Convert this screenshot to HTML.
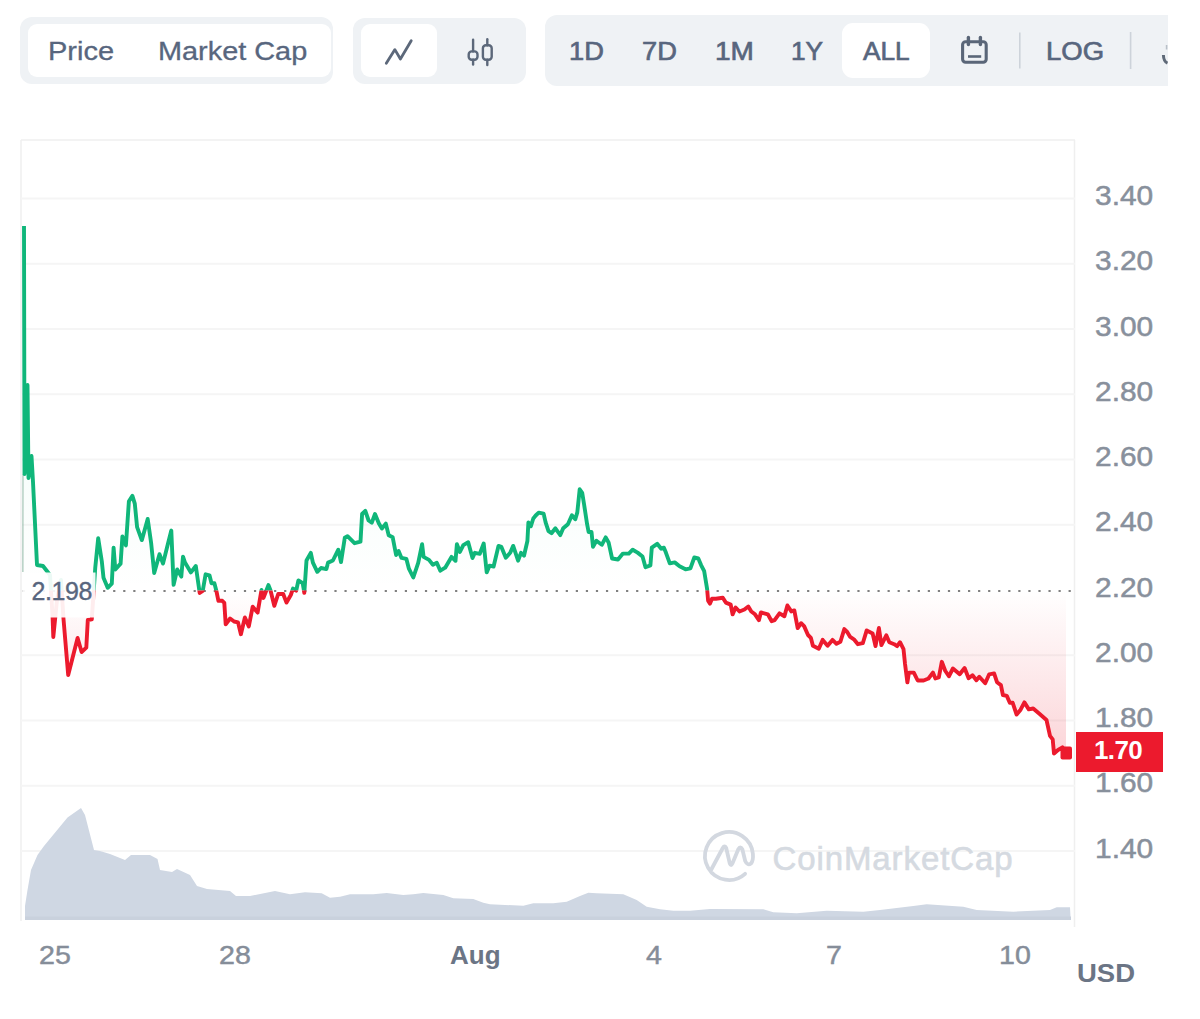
<!DOCTYPE html>
<html><head><meta charset="utf-8">
<style>
*{box-sizing:border-box;margin:0;padding:0}
html,body{width:1200px;height:1019px;background:#fff;overflow:hidden;font-family:"Liberation Sans",sans-serif}
.abs{position:absolute}
.grp{position:absolute;background:#eff2f5}
.btn{position:absolute;background:#fff}
.tt{position:absolute;color:#58667e;font-size:25px;line-height:30px;white-space:nowrap;-webkit-text-stroke:0.3px #58667e;transform-origin:0 0}
.yl{position:absolute;left:1094.5px;color:#88909c;font-size:27.2px;line-height:30px;transform:scaleX(1.1);transform-origin:0 0;-webkit-text-stroke:0.5px #88909c}
.xl{position:absolute;top:940px;color:#858d99;font-size:26px;line-height:30px;white-space:nowrap;transform:scaleX(1.1);transform-origin:0 0;-webkit-text-stroke:0.45px #858d99}
</style></head><body>
<!-- toolbar group 1 -->
<div class="grp" style="left:20px;top:17px;width:313px;height:67px;border-radius:12px"></div>
<div class="btn" style="left:28px;top:23.5px;width:303px;height:53.5px;border-radius:9px"></div>
<div class="tt" style="left:47.5px;top:36px;transform:scaleX(1.16)">Price</div>
<div class="tt" style="left:158px;top:36px;transform:scaleX(1.155)">Market Cap</div>
<!-- group 2 -->
<div class="grp" style="left:353px;top:17.5px;width:173px;height:66px;border-radius:12px"></div>
<div class="btn" style="left:361px;top:24px;width:76px;height:53px;border-radius:9px"></div>
<svg class="abs" style="left:0;top:0" width="600" height="100" viewBox="0 0 600 100">
<polyline points="386.3,63.3 394.9,49.6 400.4,59 411.2,40.8" fill="none" stroke="#5c687a" stroke-width="2.8" stroke-linejoin="round" stroke-linecap="round"/>
<g fill="none" stroke="#5c687a" stroke-width="2.4" stroke-linecap="round">
<line x1="473.1" y1="39.8" x2="473.1" y2="51.4"/><line x1="473.1" y1="59.8" x2="473.1" y2="64.6"/>
<rect x="468.7" y="51.4" width="8.8" height="8.4" rx="3"/>
<line x1="487.3" y1="39.3" x2="487.3" y2="45.2"/><line x1="487.3" y1="59.8" x2="487.3" y2="65"/>
<rect x="482.9" y="45.2" width="8.8" height="14.6" rx="3"/>
</g>
</svg>
<!-- group 3 -->
<div class="grp" style="left:545px;top:14.5px;width:622.5px;height:71.5px;border-radius:12px;border-top-right-radius:0;border-bottom-right-radius:0"></div>
<div class="btn" style="left:842px;top:22.5px;width:88px;height:55.5px;border-radius:11px"></div>
<div class="tt" style="left:569px;top:36px;transform:scaleX(1.09);-webkit-text-stroke:0.65px #58667e">1D</div>
<div class="tt" style="left:642px;top:36px;transform:scaleX(1.09);-webkit-text-stroke:0.65px #58667e">7D</div>
<div class="tt" style="left:715px;top:36px;transform:scaleX(1.12);-webkit-text-stroke:0.65px #58667e">1M</div>
<div class="tt" style="left:790.5px;top:36px;transform:scaleX(1.05);-webkit-text-stroke:0.65px #58667e">1Y</div>
<div class="tt" style="left:863px;top:36px;transform:scaleX(1.05);-webkit-text-stroke:0.65px #58667e">ALL</div>
<div class="tt" style="left:1046px;top:36px;transform:scaleX(1.1);-webkit-text-stroke:0.65px #58667e">LOG</div>
<svg class="abs" style="left:940px;top:0" width="260" height="100" viewBox="940 0 260 100">
<g fill="none" stroke="#5a6678" stroke-width="3.1">
<rect x="962.6" y="41.8" width="23.6" height="20.4" rx="3"/>
<line x1="968.4" y1="37.5" x2="968.4" y2="44.5" stroke-width="3.4" stroke-linecap="round"/><line x1="980.4" y1="37.5" x2="980.4" y2="44.5" stroke-width="3.4" stroke-linecap="round"/>
<line x1="968" y1="56.5" x2="981.2" y2="56.5" stroke-width="2.6"/>
</g>
<line x1="1019.8" y1="32.5" x2="1019.8" y2="68.5" stroke="#cdd3da" stroke-width="1.6"/>
<line x1="1130.6" y1="32" x2="1130.6" y2="69" stroke="#cdd3da" stroke-width="1.6"/>
<path d="M1163.4,55 Q1163.6,61.5 1167.5,63.2" fill="none" stroke="#5f6a78" stroke-width="3"/><line x1="1166.6" y1="45" x2="1166.6" y2="49.5" stroke="#b9c0c8" stroke-width="1.6"/>
</svg>

<!-- chart -->
<svg class="abs" style="left:0;top:0" width="1200" height="1019" viewBox="0 0 1200 1019">
<defs>
<linearGradient id="gg" x1="0" y1="226" x2="0" y2="590.5" gradientUnits="userSpaceOnUse">
<stop offset="0" stop-color="#10b67a" stop-opacity="0.10"/><stop offset="1" stop-color="#10b67a" stop-opacity="0.0"/>
</linearGradient>
<linearGradient id="rg" x1="0" y1="590.5" x2="0" y2="760" gradientUnits="userSpaceOnUse">
<stop offset="0" stop-color="#ec1a2d" stop-opacity="0.0"/><stop offset="1" stop-color="#ec1a2d" stop-opacity="0.19"/>
</linearGradient>
<clipPath id="above"><rect x="0" y="0" width="1200" height="590.5"/></clipPath>
<clipPath id="below"><rect x="0" y="590.5" width="1200" height="500"/></clipPath>
</defs>
<line x1="21" y1="140" x2="1075" y2="140" stroke="#efefef" stroke-width="1.5"/>
<line x1="21" y1="140" x2="21" y2="921" stroke="#efefef" stroke-width="1.5"/>
<line x1="1074.5" y1="140" x2="1074.5" y2="927" stroke="#efefef" stroke-width="1.5"/>
<line x1="21" y1="198.4" x2="1075" y2="198.4" stroke="#f5f5f5" stroke-width="2"/>
<line x1="21" y1="263.7" x2="1075" y2="263.7" stroke="#f5f5f5" stroke-width="2"/>
<line x1="21" y1="328.9" x2="1075" y2="328.9" stroke="#f5f5f5" stroke-width="2"/>
<line x1="21" y1="394.2" x2="1075" y2="394.2" stroke="#f5f5f5" stroke-width="2"/>
<line x1="21" y1="459.4" x2="1075" y2="459.4" stroke="#f5f5f5" stroke-width="2"/>
<line x1="21" y1="524.7" x2="1075" y2="524.7" stroke="#f5f5f5" stroke-width="2"/>
<line x1="21" y1="655.2" x2="1075" y2="655.2" stroke="#f5f5f5" stroke-width="2"/>
<line x1="21" y1="720.5" x2="1075" y2="720.5" stroke="#f5f5f5" stroke-width="2"/>
<line x1="21" y1="785.7" x2="1075" y2="785.7" stroke="#f5f5f5" stroke-width="2"/>
<line x1="21" y1="851.0" x2="1075" y2="851.0" stroke="#f5f5f5" stroke-width="2"/>
<!-- watermark -->
<g opacity="1">
<path d="M710.5,871 L722.8,848 Q724.5,845 726.2,848 L729.8,863.5 Q731,866.5 732.4,863.5 L738.2,849.5 Q740.3,845.5 742.4,849.5 L745.2,861 Q747.5,866 751,863.5 Q753.5,860.5 752.9,853.9 A24,24 0 1 0 745.1,873.8" fill="none" stroke="#d3d8e0" stroke-width="3.8" stroke-linecap="round" stroke-linejoin="round"/>
<text x="772.5" y="869.5" font-family="Liberation Sans" font-size="33" fill="#d5dae1" stroke="#d5dae1" stroke-width="0.6" letter-spacing="0.9">CoinMarketCap</text>
</g>
<path d="M25,920 L25,906 L27.5,890 L31,870 L37.5,855 L44,846 L67.5,817.5 L81,808 L85,815 L94,850 L100,851 L110,854 L125,860 L131,855 L150,855 L157.5,859 L160,870 L172,872 L177,869 L190,875 L197,886 L207,889 L230,891 L236,896 L250,896 L275,891 L290,894.3 L305,892.3 L321.7,893.3 L330,897.7 L340,896.7 L350,894.3 L373.3,894.3 L386.7,893 L403.3,895 L413.3,894.3 L423.3,893 L443.3,895 L453.3,898.3 L473.3,899 L483.3,902.7 L490,904.3 L523.3,905.7 L533.3,903.3 L553.3,903.3 L566.7,901.7 L580,896 L588.3,892.7 L596.7,893.3 L623.3,894.3 L636.7,900 L646.7,906.7 L660,909.3 L673.3,910.7 L690,910.7 L710,909 L763.3,909.3 L773.3,912.3 L796.7,913.3 L826.7,910.7 L863.3,911.7 L880,910 L913.3,906 L926.7,904.3 L963.3,906.7 L976.7,910 L1013.3,911.7 L1050,910 L1056.7,907.3 L1070,907.3 L1070.7,920 Z" fill="#cfd7e3"/>
<rect x="25" y="916.5" width="1046" height="3.5" fill="#c9d1dd"/>
<path d="M24,226 L24.5,474 L27.5,385 L28.5,478 L31.5,456 L33,482 L37,565 L43,566 L50,575 L52.5,615 L53.3,637 L57,600 L61,580 L63.5,619 L68.2,675 L77.6,638 L81.6,652 L86.3,647.6 L87.8,620 L91.8,619.4 L95.3,567.2 L98.2,538.3 L101.8,561.3 L103.5,577.8 L107.7,587.8 L111.8,583.7 L113.6,547.7 L115.3,569.5 L120.6,563.6 L122.4,536.5 L125.9,545.4 L128.9,501.2 L132.4,495.9 L134.8,503.6 L137.1,527.1 L141.8,540.1 L144.8,529.5 L147.7,518.9 L151.2,543.6 L154.2,573 L159.5,554.2 L163,563.6 L167.7,544.8 L171.3,530.6 L173.6,584.8 L177.2,569.5 L181.3,576.6 L183,556.6 L185,562.6 L190.9,572.4 L195.8,566 L199.7,593 L202.7,591 L205.6,574.3 L209.5,575.3 L211.5,583.2 L214.4,583.2 L216.4,591 L218.4,600.8 L222.3,600.8 L224.3,602.8 L225.7,624.4 L230.1,618.5 L234.1,621.5 L238,622.4 L240.9,634.2 L244.9,617.5 L248.8,626.4 L252.7,606.7 L257.6,612.6 L261.5,590 L263.5,597.9 L268.4,585.1 L270.4,590 L274.3,605.8 L278.2,594 L283.2,594 L286.5,602.6 L290.8,595 L293,588.6 L296.2,590.7 L298.4,580.5 L302.7,583.2 L304.3,592.9 L306.5,560.5 L310.8,552.9 L312.9,562.6 L317.3,571.8 L321,568 L326.4,569.1 L328.1,562.6 L332.9,560.5 L338.3,549.7 L341,562.1 L344.8,537.8 L347.5,536.2 L354.5,543.2 L360.5,541.6 L362.1,514 L365.3,510.8 L368.6,520.5 L371.8,522.7 L375,514 L378.9,523.6 L381.9,528.5 L385.8,523.6 L388.7,535.3 L392.7,537.3 L396.1,555 L398.6,551 L401.5,557.9 L406.4,558.9 L408.9,568.7 L413.3,577.5 L418.2,562.8 L422.1,544.2 L423.6,556.9 L429,559.9 L432.9,564.8 L436.8,562.8 L440.3,570.7 L445.2,567.7 L451.5,556.9 L455.5,560.8 L456.9,544.2 L459.9,552 L463.3,545.1 L468.2,542.2 L472.5,558 L474.9,552.8 L479.8,553.8 L483.7,543.5 L486.7,572.4 L489.6,565.6 L493.6,566.5 L498.5,545.9 L501.4,546.9 L505.8,557.7 L510.2,552.8 L513.2,545.9 L518.1,560.7 L521,552.8 L524,555.7 L527.4,541 L528.4,522.4 L530.8,526.3 L533.3,518.5 L535.7,515.5 L538.7,512.6 L543.6,513.6 L545.6,522.4 L548.5,531.2 L551.5,533.2 L555.4,528.3 L560.3,535.1 L563.2,528.3 L567.9,524.2 L571.9,515.3 L575.3,519.3 L577.3,512.4 L579.7,489.3 L582.2,492.8 L584.1,504.5 L587.1,524.2 L588.6,532 L591.5,532 L593,546.7 L596.4,540.8 L601.8,544.8 L605.7,537.4 L608.7,542.8 L612.1,558.5 L618,559.5 L622.9,553.6 L628.8,553.6 L632.7,549.7 L637.6,552.6 L642.5,556.5 L645.5,567.3 L650.4,565.4 L651.8,547.7 L657.2,543.8 L661.2,548.7 L663.9,547.7 L665.9,552.6 L669.8,563.4 L674.7,562.4 L679.6,566.3 L685.5,569.3 L690.4,568.3 L694.3,557.5 L698.3,558.5 L701.2,565.3 L704.2,571.2 L707.1,588.9 L708.1,600.7 L710,603.6 L712,598.7 L715.9,598.7 L722.8,597.7 L725.8,602.6 L730.7,604.6 L732.6,614.4 L735.6,607.5 L739.5,611.5 L744.4,609.5 L748.3,606.5 L751.3,611.5 L755,614.3 L758.9,620.2 L760.9,612.4 L767.8,614.3 L771.7,621.2 L774.6,620.2 L779.5,613.4 L784.4,616.3 L787.4,605.5 L791.3,611.4 L794.3,610.4 L797.7,628.1 L801.1,623.2 L804.1,626.1 L808,635 L810.9,637.9 L812.9,645.8 L818.8,648.7 L822.7,639.9 L827.6,645.8 L832.5,639.9 L836.5,643.8 L840.4,641.8 L844.3,629.1 L847.2,632 L850.2,636.9 L853.9,639.3 L857.9,644.2 L862.8,643.2 L866.7,630.4 L872.6,633.4 L875.5,646.1 L878.9,628 L881.4,645.1 L886.3,635.3 L889.3,642.2 L894.2,644.2 L897.1,646.1 L900,642.2 L903.5,649.1 L905,663.8 L907.4,682.4 L908.9,672.6 L913.8,672.6 L917.7,680.5 L923.6,680.5 L928.5,678.5 L932.9,672.6 L935.4,678.5 L938.8,677.5 L941.8,661.8 L945.2,670.7 L948.9,676.3 L952.9,668.5 L959.7,674.3 L964.6,668 L968.6,678.3 L972.5,675.3 L976.4,680.2 L979.3,676.8 L985.2,683.2 L989.2,674.3 L994.1,673.4 L997,682.2 L1000.9,685.1 L1002.9,695 L1006.8,695.9 L1009.8,702.8 L1012.7,702.8 L1016.6,714.6 L1020.6,709.7 L1024.4,702.4 L1028.8,709.4 L1033.2,708.5 L1039.4,713.8 L1046.5,720 L1050,735.9 L1052.7,739.4 L1054,753.6 L1058,750 L1062.4,747.4 L1066,753 L1066,590.5 L24,590.5 Z" fill="url(#gg)" clip-path="url(#above)"/>
<path d="M24,226 L24.5,474 L27.5,385 L28.5,478 L31.5,456 L33,482 L37,565 L43,566 L50,575 L52.5,615 L53.3,637 L57,600 L61,580 L63.5,619 L68.2,675 L77.6,638 L81.6,652 L86.3,647.6 L87.8,620 L91.8,619.4 L95.3,567.2 L98.2,538.3 L101.8,561.3 L103.5,577.8 L107.7,587.8 L111.8,583.7 L113.6,547.7 L115.3,569.5 L120.6,563.6 L122.4,536.5 L125.9,545.4 L128.9,501.2 L132.4,495.9 L134.8,503.6 L137.1,527.1 L141.8,540.1 L144.8,529.5 L147.7,518.9 L151.2,543.6 L154.2,573 L159.5,554.2 L163,563.6 L167.7,544.8 L171.3,530.6 L173.6,584.8 L177.2,569.5 L181.3,576.6 L183,556.6 L185,562.6 L190.9,572.4 L195.8,566 L199.7,593 L202.7,591 L205.6,574.3 L209.5,575.3 L211.5,583.2 L214.4,583.2 L216.4,591 L218.4,600.8 L222.3,600.8 L224.3,602.8 L225.7,624.4 L230.1,618.5 L234.1,621.5 L238,622.4 L240.9,634.2 L244.9,617.5 L248.8,626.4 L252.7,606.7 L257.6,612.6 L261.5,590 L263.5,597.9 L268.4,585.1 L270.4,590 L274.3,605.8 L278.2,594 L283.2,594 L286.5,602.6 L290.8,595 L293,588.6 L296.2,590.7 L298.4,580.5 L302.7,583.2 L304.3,592.9 L306.5,560.5 L310.8,552.9 L312.9,562.6 L317.3,571.8 L321,568 L326.4,569.1 L328.1,562.6 L332.9,560.5 L338.3,549.7 L341,562.1 L344.8,537.8 L347.5,536.2 L354.5,543.2 L360.5,541.6 L362.1,514 L365.3,510.8 L368.6,520.5 L371.8,522.7 L375,514 L378.9,523.6 L381.9,528.5 L385.8,523.6 L388.7,535.3 L392.7,537.3 L396.1,555 L398.6,551 L401.5,557.9 L406.4,558.9 L408.9,568.7 L413.3,577.5 L418.2,562.8 L422.1,544.2 L423.6,556.9 L429,559.9 L432.9,564.8 L436.8,562.8 L440.3,570.7 L445.2,567.7 L451.5,556.9 L455.5,560.8 L456.9,544.2 L459.9,552 L463.3,545.1 L468.2,542.2 L472.5,558 L474.9,552.8 L479.8,553.8 L483.7,543.5 L486.7,572.4 L489.6,565.6 L493.6,566.5 L498.5,545.9 L501.4,546.9 L505.8,557.7 L510.2,552.8 L513.2,545.9 L518.1,560.7 L521,552.8 L524,555.7 L527.4,541 L528.4,522.4 L530.8,526.3 L533.3,518.5 L535.7,515.5 L538.7,512.6 L543.6,513.6 L545.6,522.4 L548.5,531.2 L551.5,533.2 L555.4,528.3 L560.3,535.1 L563.2,528.3 L567.9,524.2 L571.9,515.3 L575.3,519.3 L577.3,512.4 L579.7,489.3 L582.2,492.8 L584.1,504.5 L587.1,524.2 L588.6,532 L591.5,532 L593,546.7 L596.4,540.8 L601.8,544.8 L605.7,537.4 L608.7,542.8 L612.1,558.5 L618,559.5 L622.9,553.6 L628.8,553.6 L632.7,549.7 L637.6,552.6 L642.5,556.5 L645.5,567.3 L650.4,565.4 L651.8,547.7 L657.2,543.8 L661.2,548.7 L663.9,547.7 L665.9,552.6 L669.8,563.4 L674.7,562.4 L679.6,566.3 L685.5,569.3 L690.4,568.3 L694.3,557.5 L698.3,558.5 L701.2,565.3 L704.2,571.2 L707.1,588.9 L708.1,600.7 L710,603.6 L712,598.7 L715.9,598.7 L722.8,597.7 L725.8,602.6 L730.7,604.6 L732.6,614.4 L735.6,607.5 L739.5,611.5 L744.4,609.5 L748.3,606.5 L751.3,611.5 L755,614.3 L758.9,620.2 L760.9,612.4 L767.8,614.3 L771.7,621.2 L774.6,620.2 L779.5,613.4 L784.4,616.3 L787.4,605.5 L791.3,611.4 L794.3,610.4 L797.7,628.1 L801.1,623.2 L804.1,626.1 L808,635 L810.9,637.9 L812.9,645.8 L818.8,648.7 L822.7,639.9 L827.6,645.8 L832.5,639.9 L836.5,643.8 L840.4,641.8 L844.3,629.1 L847.2,632 L850.2,636.9 L853.9,639.3 L857.9,644.2 L862.8,643.2 L866.7,630.4 L872.6,633.4 L875.5,646.1 L878.9,628 L881.4,645.1 L886.3,635.3 L889.3,642.2 L894.2,644.2 L897.1,646.1 L900,642.2 L903.5,649.1 L905,663.8 L907.4,682.4 L908.9,672.6 L913.8,672.6 L917.7,680.5 L923.6,680.5 L928.5,678.5 L932.9,672.6 L935.4,678.5 L938.8,677.5 L941.8,661.8 L945.2,670.7 L948.9,676.3 L952.9,668.5 L959.7,674.3 L964.6,668 L968.6,678.3 L972.5,675.3 L976.4,680.2 L979.3,676.8 L985.2,683.2 L989.2,674.3 L994.1,673.4 L997,682.2 L1000.9,685.1 L1002.9,695 L1006.8,695.9 L1009.8,702.8 L1012.7,702.8 L1016.6,714.6 L1020.6,709.7 L1024.4,702.4 L1028.8,709.4 L1033.2,708.5 L1039.4,713.8 L1046.5,720 L1050,735.9 L1052.7,739.4 L1054,753.6 L1058,750 L1062.4,747.4 L1066,753 L1066,590.5 L24,590.5 Z" fill="url(#rg)" clip-path="url(#below)"/>
<path d="M22.64,591.0h2.2 M32.70,591.0h2.2 M42.76,591.0h2.2 M52.81,591.0h2.2 M62.87,591.0h2.2 M72.93,591.0h2.2 M82.99,591.0h2.2 M93.04,591.0h2.2 M103.10,591.0h2.2 M113.16,591.0h2.2 M123.21,591.0h2.2 M133.27,591.0h2.2 M143.33,591.0h2.2 M153.39,591.0h2.2 M163.44,591.0h2.2 M173.50,591.0h2.2 M183.56,591.0h2.2 M193.61,591.0h2.2 M203.67,591.0h2.2 M213.73,591.0h2.2 M223.78,591.0h2.2 M233.84,591.0h2.2 M243.90,591.0h2.2 M253.96,591.0h2.2 M264.01,591.0h2.2 M274.07,591.0h2.2 M284.13,591.0h2.2 M294.18,591.0h2.2 M304.24,591.0h2.2 M314.30,591.0h2.2 M324.35,591.0h2.2 M334.41,591.0h2.2 M344.47,591.0h2.2 M354.52,591.0h2.2 M364.58,591.0h2.2 M374.64,591.0h2.2 M384.70,591.0h2.2 M394.75,591.0h2.2 M404.81,591.0h2.2 M414.87,591.0h2.2 M424.92,591.0h2.2 M434.98,591.0h2.2 M445.04,591.0h2.2 M455.09,591.0h2.2 M465.15,591.0h2.2 M475.21,591.0h2.2 M485.27,591.0h2.2 M495.32,591.0h2.2 M505.38,591.0h2.2 M515.44,591.0h2.2 M525.49,591.0h2.2 M535.55,591.0h2.2 M545.61,591.0h2.2 M555.66,591.0h2.2 M565.72,591.0h2.2 M575.78,591.0h2.2 M585.84,591.0h2.2 M595.89,591.0h2.2 M605.95,591.0h2.2 M616.01,591.0h2.2 M626.06,591.0h2.2 M636.12,591.0h2.2 M646.18,591.0h2.2 M656.24,591.0h2.2 M666.29,591.0h2.2 M676.35,591.0h2.2 M686.41,591.0h2.2 M696.46,591.0h2.2 M706.52,591.0h2.2 M716.58,591.0h2.2 M726.63,591.0h2.2 M736.69,591.0h2.2 M746.75,591.0h2.2 M756.81,591.0h2.2 M766.86,591.0h2.2 M776.92,591.0h2.2 M786.98,591.0h2.2 M797.03,591.0h2.2 M807.09,591.0h2.2 M817.15,591.0h2.2 M827.20,591.0h2.2 M837.26,591.0h2.2 M847.32,591.0h2.2 M857.38,591.0h2.2 M867.43,591.0h2.2 M877.49,591.0h2.2 M887.55,591.0h2.2 M897.60,591.0h2.2 M907.66,591.0h2.2 M917.72,591.0h2.2 M927.77,591.0h2.2 M937.83,591.0h2.2 M947.89,591.0h2.2 M957.95,591.0h2.2 M968.00,591.0h2.2 M978.06,591.0h2.2 M988.12,591.0h2.2 M998.17,591.0h2.2 M1008.23,591.0h2.2 M1018.29,591.0h2.2 M1028.34,591.0h2.2 M1038.40,591.0h2.2 M1048.46,591.0h2.2 M1058.52,591.0h2.2 M1068.57,591.0h2.2" stroke="#808080" stroke-width="2.2" fill="none"/>
<line x1="22.9" y1="572" x2="23" y2="474" stroke="#8fb8a5" stroke-width="1"/>
<path d="M24,226 L24.5,474 L27.5,385 L28.5,478 L31.5,456 L33,482 L37,565 L43,566 L50,575 L52.5,615 L53.3,637 L57,600 L61,580 L63.5,619 L68.2,675 L77.6,638 L81.6,652 L86.3,647.6 L87.8,620 L91.8,619.4 L95.3,567.2 L98.2,538.3 L101.8,561.3 L103.5,577.8 L107.7,587.8 L111.8,583.7 L113.6,547.7 L115.3,569.5 L120.6,563.6 L122.4,536.5 L125.9,545.4 L128.9,501.2 L132.4,495.9 L134.8,503.6 L137.1,527.1 L141.8,540.1 L144.8,529.5 L147.7,518.9 L151.2,543.6 L154.2,573 L159.5,554.2 L163,563.6 L167.7,544.8 L171.3,530.6 L173.6,584.8 L177.2,569.5 L181.3,576.6 L183,556.6 L185,562.6 L190.9,572.4 L195.8,566 L199.7,593 L202.7,591 L205.6,574.3 L209.5,575.3 L211.5,583.2 L214.4,583.2 L216.4,591 L218.4,600.8 L222.3,600.8 L224.3,602.8 L225.7,624.4 L230.1,618.5 L234.1,621.5 L238,622.4 L240.9,634.2 L244.9,617.5 L248.8,626.4 L252.7,606.7 L257.6,612.6 L261.5,590 L263.5,597.9 L268.4,585.1 L270.4,590 L274.3,605.8 L278.2,594 L283.2,594 L286.5,602.6 L290.8,595 L293,588.6 L296.2,590.7 L298.4,580.5 L302.7,583.2 L304.3,592.9 L306.5,560.5 L310.8,552.9 L312.9,562.6 L317.3,571.8 L321,568 L326.4,569.1 L328.1,562.6 L332.9,560.5 L338.3,549.7 L341,562.1 L344.8,537.8 L347.5,536.2 L354.5,543.2 L360.5,541.6 L362.1,514 L365.3,510.8 L368.6,520.5 L371.8,522.7 L375,514 L378.9,523.6 L381.9,528.5 L385.8,523.6 L388.7,535.3 L392.7,537.3 L396.1,555 L398.6,551 L401.5,557.9 L406.4,558.9 L408.9,568.7 L413.3,577.5 L418.2,562.8 L422.1,544.2 L423.6,556.9 L429,559.9 L432.9,564.8 L436.8,562.8 L440.3,570.7 L445.2,567.7 L451.5,556.9 L455.5,560.8 L456.9,544.2 L459.9,552 L463.3,545.1 L468.2,542.2 L472.5,558 L474.9,552.8 L479.8,553.8 L483.7,543.5 L486.7,572.4 L489.6,565.6 L493.6,566.5 L498.5,545.9 L501.4,546.9 L505.8,557.7 L510.2,552.8 L513.2,545.9 L518.1,560.7 L521,552.8 L524,555.7 L527.4,541 L528.4,522.4 L530.8,526.3 L533.3,518.5 L535.7,515.5 L538.7,512.6 L543.6,513.6 L545.6,522.4 L548.5,531.2 L551.5,533.2 L555.4,528.3 L560.3,535.1 L563.2,528.3 L567.9,524.2 L571.9,515.3 L575.3,519.3 L577.3,512.4 L579.7,489.3 L582.2,492.8 L584.1,504.5 L587.1,524.2 L588.6,532 L591.5,532 L593,546.7 L596.4,540.8 L601.8,544.8 L605.7,537.4 L608.7,542.8 L612.1,558.5 L618,559.5 L622.9,553.6 L628.8,553.6 L632.7,549.7 L637.6,552.6 L642.5,556.5 L645.5,567.3 L650.4,565.4 L651.8,547.7 L657.2,543.8 L661.2,548.7 L663.9,547.7 L665.9,552.6 L669.8,563.4 L674.7,562.4 L679.6,566.3 L685.5,569.3 L690.4,568.3 L694.3,557.5 L698.3,558.5 L701.2,565.3 L704.2,571.2 L707.1,588.9 L708.1,600.7 L710,603.6 L712,598.7 L715.9,598.7 L722.8,597.7 L725.8,602.6 L730.7,604.6 L732.6,614.4 L735.6,607.5 L739.5,611.5 L744.4,609.5 L748.3,606.5 L751.3,611.5 L755,614.3 L758.9,620.2 L760.9,612.4 L767.8,614.3 L771.7,621.2 L774.6,620.2 L779.5,613.4 L784.4,616.3 L787.4,605.5 L791.3,611.4 L794.3,610.4 L797.7,628.1 L801.1,623.2 L804.1,626.1 L808,635 L810.9,637.9 L812.9,645.8 L818.8,648.7 L822.7,639.9 L827.6,645.8 L832.5,639.9 L836.5,643.8 L840.4,641.8 L844.3,629.1 L847.2,632 L850.2,636.9 L853.9,639.3 L857.9,644.2 L862.8,643.2 L866.7,630.4 L872.6,633.4 L875.5,646.1 L878.9,628 L881.4,645.1 L886.3,635.3 L889.3,642.2 L894.2,644.2 L897.1,646.1 L900,642.2 L903.5,649.1 L905,663.8 L907.4,682.4 L908.9,672.6 L913.8,672.6 L917.7,680.5 L923.6,680.5 L928.5,678.5 L932.9,672.6 L935.4,678.5 L938.8,677.5 L941.8,661.8 L945.2,670.7 L948.9,676.3 L952.9,668.5 L959.7,674.3 L964.6,668 L968.6,678.3 L972.5,675.3 L976.4,680.2 L979.3,676.8 L985.2,683.2 L989.2,674.3 L994.1,673.4 L997,682.2 L1000.9,685.1 L1002.9,695 L1006.8,695.9 L1009.8,702.8 L1012.7,702.8 L1016.6,714.6 L1020.6,709.7 L1024.4,702.4 L1028.8,709.4 L1033.2,708.5 L1039.4,713.8 L1046.5,720 L1050,735.9 L1052.7,739.4 L1054,753.6 L1058,750 L1062.4,747.4 L1066,753" fill="none" stroke="#10b67a" stroke-width="3.9" stroke-linejoin="round" clip-path="url(#above)"/>
<path d="M24,226 L24.5,474 L27.5,385 L28.5,478 L31.5,456 L33,482 L37,565 L43,566 L50,575 L52.5,615 L53.3,637 L57,600 L61,580 L63.5,619 L68.2,675 L77.6,638 L81.6,652 L86.3,647.6 L87.8,620 L91.8,619.4 L95.3,567.2 L98.2,538.3 L101.8,561.3 L103.5,577.8 L107.7,587.8 L111.8,583.7 L113.6,547.7 L115.3,569.5 L120.6,563.6 L122.4,536.5 L125.9,545.4 L128.9,501.2 L132.4,495.9 L134.8,503.6 L137.1,527.1 L141.8,540.1 L144.8,529.5 L147.7,518.9 L151.2,543.6 L154.2,573 L159.5,554.2 L163,563.6 L167.7,544.8 L171.3,530.6 L173.6,584.8 L177.2,569.5 L181.3,576.6 L183,556.6 L185,562.6 L190.9,572.4 L195.8,566 L199.7,593 L202.7,591 L205.6,574.3 L209.5,575.3 L211.5,583.2 L214.4,583.2 L216.4,591 L218.4,600.8 L222.3,600.8 L224.3,602.8 L225.7,624.4 L230.1,618.5 L234.1,621.5 L238,622.4 L240.9,634.2 L244.9,617.5 L248.8,626.4 L252.7,606.7 L257.6,612.6 L261.5,590 L263.5,597.9 L268.4,585.1 L270.4,590 L274.3,605.8 L278.2,594 L283.2,594 L286.5,602.6 L290.8,595 L293,588.6 L296.2,590.7 L298.4,580.5 L302.7,583.2 L304.3,592.9 L306.5,560.5 L310.8,552.9 L312.9,562.6 L317.3,571.8 L321,568 L326.4,569.1 L328.1,562.6 L332.9,560.5 L338.3,549.7 L341,562.1 L344.8,537.8 L347.5,536.2 L354.5,543.2 L360.5,541.6 L362.1,514 L365.3,510.8 L368.6,520.5 L371.8,522.7 L375,514 L378.9,523.6 L381.9,528.5 L385.8,523.6 L388.7,535.3 L392.7,537.3 L396.1,555 L398.6,551 L401.5,557.9 L406.4,558.9 L408.9,568.7 L413.3,577.5 L418.2,562.8 L422.1,544.2 L423.6,556.9 L429,559.9 L432.9,564.8 L436.8,562.8 L440.3,570.7 L445.2,567.7 L451.5,556.9 L455.5,560.8 L456.9,544.2 L459.9,552 L463.3,545.1 L468.2,542.2 L472.5,558 L474.9,552.8 L479.8,553.8 L483.7,543.5 L486.7,572.4 L489.6,565.6 L493.6,566.5 L498.5,545.9 L501.4,546.9 L505.8,557.7 L510.2,552.8 L513.2,545.9 L518.1,560.7 L521,552.8 L524,555.7 L527.4,541 L528.4,522.4 L530.8,526.3 L533.3,518.5 L535.7,515.5 L538.7,512.6 L543.6,513.6 L545.6,522.4 L548.5,531.2 L551.5,533.2 L555.4,528.3 L560.3,535.1 L563.2,528.3 L567.9,524.2 L571.9,515.3 L575.3,519.3 L577.3,512.4 L579.7,489.3 L582.2,492.8 L584.1,504.5 L587.1,524.2 L588.6,532 L591.5,532 L593,546.7 L596.4,540.8 L601.8,544.8 L605.7,537.4 L608.7,542.8 L612.1,558.5 L618,559.5 L622.9,553.6 L628.8,553.6 L632.7,549.7 L637.6,552.6 L642.5,556.5 L645.5,567.3 L650.4,565.4 L651.8,547.7 L657.2,543.8 L661.2,548.7 L663.9,547.7 L665.9,552.6 L669.8,563.4 L674.7,562.4 L679.6,566.3 L685.5,569.3 L690.4,568.3 L694.3,557.5 L698.3,558.5 L701.2,565.3 L704.2,571.2 L707.1,588.9 L708.1,600.7 L710,603.6 L712,598.7 L715.9,598.7 L722.8,597.7 L725.8,602.6 L730.7,604.6 L732.6,614.4 L735.6,607.5 L739.5,611.5 L744.4,609.5 L748.3,606.5 L751.3,611.5 L755,614.3 L758.9,620.2 L760.9,612.4 L767.8,614.3 L771.7,621.2 L774.6,620.2 L779.5,613.4 L784.4,616.3 L787.4,605.5 L791.3,611.4 L794.3,610.4 L797.7,628.1 L801.1,623.2 L804.1,626.1 L808,635 L810.9,637.9 L812.9,645.8 L818.8,648.7 L822.7,639.9 L827.6,645.8 L832.5,639.9 L836.5,643.8 L840.4,641.8 L844.3,629.1 L847.2,632 L850.2,636.9 L853.9,639.3 L857.9,644.2 L862.8,643.2 L866.7,630.4 L872.6,633.4 L875.5,646.1 L878.9,628 L881.4,645.1 L886.3,635.3 L889.3,642.2 L894.2,644.2 L897.1,646.1 L900,642.2 L903.5,649.1 L905,663.8 L907.4,682.4 L908.9,672.6 L913.8,672.6 L917.7,680.5 L923.6,680.5 L928.5,678.5 L932.9,672.6 L935.4,678.5 L938.8,677.5 L941.8,661.8 L945.2,670.7 L948.9,676.3 L952.9,668.5 L959.7,674.3 L964.6,668 L968.6,678.3 L972.5,675.3 L976.4,680.2 L979.3,676.8 L985.2,683.2 L989.2,674.3 L994.1,673.4 L997,682.2 L1000.9,685.1 L1002.9,695 L1006.8,695.9 L1009.8,702.8 L1012.7,702.8 L1016.6,714.6 L1020.6,709.7 L1024.4,702.4 L1028.8,709.4 L1033.2,708.5 L1039.4,713.8 L1046.5,720 L1050,735.9 L1052.7,739.4 L1054,753.6 L1058,750 L1062.4,747.4 L1066,753" fill="none" stroke="#ec1a2d" stroke-width="3.9" stroke-linejoin="round" clip-path="url(#below)"/>
<rect x="1060.5" y="746.5" width="11.5" height="13" rx="2" fill="#ec1a2d"/>
<rect x="22.5" y="572.5" width="73" height="45" fill="#fff" fill-opacity="0.92"/>
<text x="31.5" y="600" font-family="Liberation Sans" font-size="25" fill="#58667e" stroke="#58667e" stroke-width="0.35" letter-spacing="-0.4">2.198</text>
</svg>
<div class="yl" style="top:181.1px">3.40</div>
<div class="yl" style="top:246.4px">3.20</div>
<div class="yl" style="top:311.6px">3.00</div>
<div class="yl" style="top:376.9px">2.80</div>
<div class="yl" style="top:442.1px">2.60</div>
<div class="yl" style="top:507.4px">2.40</div>
<div class="yl" style="top:572.7px">2.20</div>
<div class="yl" style="top:637.9px">2.00</div>
<div class="yl" style="top:703.2px">1.80</div>
<div class="yl" style="top:768.4px">1.60</div>
<div class="yl" style="top:833.7px">1.40</div>
<div class="abs" style="left:1076px;top:732px;width:87px;height:40px;background:#ec1a2d"></div>
<div class="abs" style="left:1094px;top:735px;color:#fff;font-weight:bold;font-size:26px;line-height:30px;letter-spacing:-0.6px">1.70</div>
<div class="xl" style="left:38.5px">25</div>
<div class="xl" style="left:218.5px">28</div>
<div class="xl" style="left:450px;font-weight:bold;color:#6b7585;transform:none;-webkit-text-stroke:0">Aug</div>
<div class="xl" style="left:646px">4</div>
<div class="xl" style="left:826px">7</div>
<div class="xl" style="left:999px">10</div>
<div class="abs" style="left:1077px;top:958px;color:#6b7585;font-weight:bold;font-size:25px;line-height:30px;transform:scaleX(1.1);transform-origin:0 0">USD</div>
</body></html>
